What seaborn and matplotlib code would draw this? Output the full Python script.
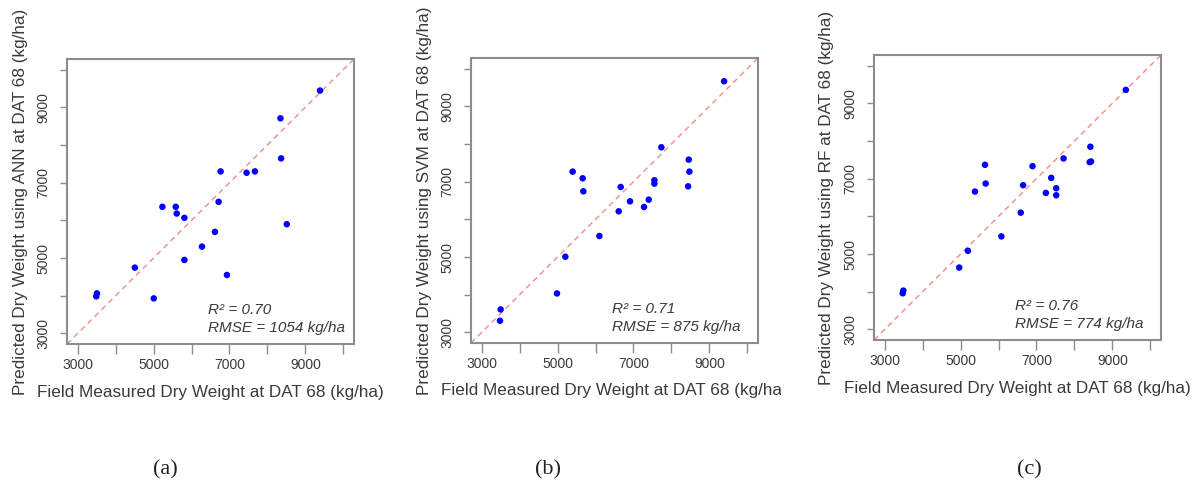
import numpy as np
import pandas as pd
import matplotlib
matplotlib.use("Agg")
import matplotlib.pyplot as plt
import seaborn as sns
from matplotlib.transforms import Bbox, TransformedBbox

# ---------------- data ----------------
ann_measured = [9385, 8343, 8360, 6766, 7450, 7669, 6714, 5233, 5584, 5610,
                5812, 8509, 6617, 6276, 5812, 4507, 6933, 3508, 3490, 5006]
ann_predicted = [9443, 8707, 7644, 7298, 7263, 7298, 6492, 6359, 6359, 6181,
                 6066, 5898, 5694, 5304, 4950, 4746, 4551, 4063, 3984, 3930]

svm_measured = [9387, 7735, 8455, 8473, 8438, 5398, 5662, 5679, 6663, 7551,
                7551, 6909, 7401, 7278, 6611, 6101, 5205, 4985, 3501, 3483]
svm_predicted = [9664, 7912, 7584, 7266, 6876, 7266, 7089, 6744, 6859, 7036,
                 6947, 6478, 6522, 6328, 6213, 5558, 5009, 4035, 3611, 3310]

rf_measured = [9353, 8419, 7714, 8436, 8401, 5643, 6895, 7388, 5661, 6648,
               7520, 5379, 7247, 7520, 6586, 6075, 5194, 4965, 3493, 3476]
rf_predicted = [9355, 7846, 7536, 7456, 7438, 7367, 7331, 7021, 6870, 6826,
                6746, 6657, 6621, 6559, 6098, 5468, 5086, 4642, 4030, 3959]

model_names = ["ANN", "SVM", "RF"]
r2_values = ["0.70", "0.71", "0.76"]
rmse_values = ["1054", "875", "774"]
panel_letters = ["(a)", "(b)", "(c)"]
tick_values = [3000, 4000, 5000, 6000, 7000, 8000, 9000, 10000]
tick_labels = ["3000", "", "5000", "", "7000", "", "9000", ""]
axis_range = [3000, 10000]

# ---------------- styling ----------------
sns.set_style("white")
plt.rcParams["font.family"] = ["Liberation Sans", "DejaVu Sans"]

W, H = 1199, 488
DPI = 100
fig = plt.figure(figsize=(W / DPI, H / DPI), dpi=DPI)

# axes boxes in pixels: left, top, right, bottom
boxes = [(67, 59, 354, 344), (471, 58, 758, 343), (874, 55, 1161, 340)]
caption_x = [165, 548, 1029]
xlabel_clip = [400, 781, 1190]

text_col = "#3a3a3a"
frame_col = "#8c8c8c"

datasets = [(ann_measured, ann_predicted), (svm_measured, svm_predicted),
            (rf_measured, rf_predicted)]

span = axis_range[1] - axis_range[0]
lo = axis_range[0] - 0.04 * span
hi = axis_range[1] + 0.04 * span

for i, ((mx, py), box) in enumerate(zip(datasets, boxes)):
    l, t, r, b = box
    ax = fig.add_axes([l / W, 1 - b / H, (r - l) / W, (b - t) / H])
    df = pd.DataFrame({"measured": mx, "predicted": py})
    ax.axline((axis_range[0], axis_range[0]), slope=1, color="#f28b8b",
              lw=1.0, ls=(0, (4, 3)), zorder=1)
    sns.scatterplot(data=df, x="measured", y="predicted", ax=ax,
                    color="#0000ff", s=22, edgecolor="none", linewidth=0,
                    zorder=3, legend=False)
    ax.set_xlim(lo, hi)
    ax.set_ylim(lo, hi)
    ax.set_xticks(tick_values)
    ax.set_yticks(tick_values)
    ax.set_xticklabels(tick_labels)
    ax.set_yticklabels(tick_labels, rotation=90, va="center")
    ax.tick_params(axis="x", length=7, width=1, color=frame_col, pad=3,
                   labelsize=10, labelcolor=text_col, direction="out",
                   bottom=True)
    ax.tick_params(axis="y", length=5, width=1, color=frame_col, pad=7,
                   labelsize=10, labelcolor=text_col, direction="out",
                   left=True)
    for sp in ax.spines.values():
        sp.set_color(frame_col)
        sp.set_linewidth(1.5)
    ax.grid(False)

    ax.set_xlabel("Field Measured Dry Weight at DAT 68 (kg/ha)",
                  fontsize=12.3, color=text_col, va="center")
    ax.xaxis.set_label_coords(0.5, -48 / (b - t))
    ax.set_ylabel(f"Predicted Dry Weight using {model_names[i]} at DAT 68 (kg/ha)",
                  fontsize=12.3, color=text_col, va="center")
    ax.yaxis.set_label_coords(-47 / (r - l), 0.5)

    clip = TransformedBbox(Bbox.from_extents(0, 0, xlabel_clip[i] / DPI, H / DPI),
                           fig.dpi_scale_trans)
    ax.xaxis.label.set_clip_box(clip)
    ax.xaxis.label.set_clip_on(True)

    ax.text(0.49, 0.118, f"R\u00b2 = {r2_values[i]}", transform=ax.transAxes,
            fontsize=11, style="italic", color=text_col, va="center", ha="left")
    ax.text(0.49, 0.055, f"RMSE = {rmse_values[i]} kg/ha", transform=ax.transAxes,
            fontsize=11, style="italic", color=text_col, va="center", ha="left")

    fig.text(caption_x[i] / W, 1 - 470 / H, panel_letters[i],
             family=["Liberation Serif", "DejaVu Serif"], fontsize=16,
             color="#222222", ha="center", va="center")

fig.savefig("out.png", dpi=DPI, facecolor="white")
